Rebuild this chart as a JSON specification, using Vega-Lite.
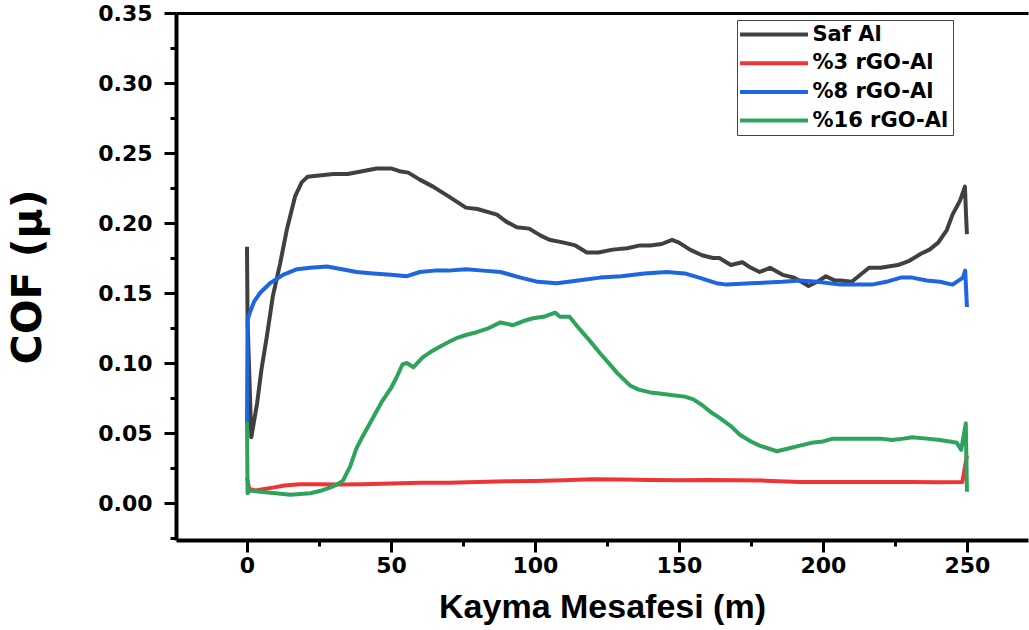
{
  "$schema": "https://vega.github.io/schema/vega-lite/v6.json",
  "width": 852,
  "height": 527,
  "autosize": {"type": "none"},
  "padding": {"left": 176, "top": 13, "right": 1, "bottom": 90},
  "background": "white",
  "config": {
    "view": {"stroke": null},
    "axis": {
      "grid": false,
      "domainColor": "black",
      "domainWidth": 4,
      "tickColor": "black",
      "tickWidth": 3,
      "tickSize": 12,
      "labelColor": "black",
      "labelFont": "DejaVu Sans",
      "labelFontWeight": "bold",
      "labelFontSize": 22,
      "labelOverlap": false,
      "labelFlush": false,
      "titleColor": "black",
      "titleFontWeight": "bold"
    },
    "legend": {
      "orient": "none",
      "legendX": 561,
      "legendY": 7,
      "padding": 4,
      "strokeColor": "#444444",
      "fillColor": "white",
      "symbolType": "M-4,0H4",
      "symbolSize": 289,
      "symbolStrokeWidth": 4,
      "symbolOffset": 22.5,
      "labelOffset": 28,
      "labelFont": "DejaVu Sans",
      "labelFontWeight": "bold",
      "labelFontSize": 21,
      "labelColor": "black",
      "labelLimit": 400,
      "rowPadding": 6.7
    }
  },
  "resolve": {"axis": {"x": "independent", "y": "independent"}},
  "layer": [
    {
      "data": {"values": [{"t": 0}]},
      "mark": {"type": "rule", "opacity": 0},
      "encoding": {
        "x": {
          "field": "t",
          "type": "quantitative",
          "scale": {"domain": [-24.65, 271.2], "nice": false, "zero": false},
          "axis": {
            "orient": "top",
            "title": null,
            "labels": false,
            "ticks": false,
            "domain": true,
            "domainWidth": 3
          }
        }
      }
    },
    {
      "data": {"values": [{"t": 0, "v": 0}]},
      "mark": {"type": "point", "opacity": 0},
      "encoding": {
        "x": {
          "field": "t",
          "type": "quantitative",
          "scale": {"domain": [-24.65, 271.2], "nice": false, "zero": false},
          "axis": {
            "orient": "bottom",
            "title": null,
            "labels": false,
            "domain": false,
            "tickSize": 6,
            "values": [25, 75, 125, 175, 225]
          }
        },
        "y": {
          "field": "v",
          "type": "quantitative",
          "scale": {"domain": [-0.0264, 0.35], "nice": false, "zero": false},
          "axis": {
            "orient": "left",
            "title": null,
            "labels": false,
            "domain": false,
            "tickSize": 6,
            "values": [-0.025, 0.025, 0.075, 0.125, 0.175, 0.225, 0.275, 0.325]
          }
        }
      }
    },
    {
      "data": {
        "values": [
          {"series": "Saf Al", "x": 0, "y": 0.183},
          {"series": "Saf Al", "x": 0.2, "y": 0.13},
          {"series": "Saf Al", "x": 1.5, "y": 0.047},
          {"series": "Saf Al", "x": 3.5, "y": 0.071},
          {"series": "Saf Al", "x": 5, "y": 0.095},
          {"series": "Saf Al", "x": 6.9, "y": 0.119},
          {"series": "Saf Al", "x": 9, "y": 0.148},
          {"series": "Saf Al", "x": 11.5, "y": 0.171},
          {"series": "Saf Al", "x": 13.8, "y": 0.195},
          {"series": "Saf Al", "x": 16.7, "y": 0.219},
          {"series": "Saf Al", "x": 19, "y": 0.229},
          {"series": "Saf Al", "x": 21, "y": 0.233},
          {"series": "Saf Al", "x": 25, "y": 0.234},
          {"series": "Saf Al", "x": 30, "y": 0.235},
          {"series": "Saf Al", "x": 35, "y": 0.235},
          {"series": "Saf Al", "x": 40, "y": 0.237},
          {"series": "Saf Al", "x": 45, "y": 0.239},
          {"series": "Saf Al", "x": 50, "y": 0.239},
          {"series": "Saf Al", "x": 53, "y": 0.237},
          {"series": "Saf Al", "x": 56, "y": 0.236},
          {"series": "Saf Al", "x": 60, "y": 0.231},
          {"series": "Saf Al", "x": 64.6, "y": 0.226},
          {"series": "Saf Al", "x": 70, "y": 0.219},
          {"series": "Saf Al", "x": 76, "y": 0.211},
          {"series": "Saf Al", "x": 80, "y": 0.21},
          {"series": "Saf Al", "x": 86.8, "y": 0.206},
          {"series": "Saf Al", "x": 90, "y": 0.201},
          {"series": "Saf Al", "x": 93.7, "y": 0.197},
          {"series": "Saf Al", "x": 98, "y": 0.196},
          {"series": "Saf Al", "x": 102, "y": 0.191},
          {"series": "Saf Al", "x": 105, "y": 0.188},
          {"series": "Saf Al", "x": 110, "y": 0.186},
          {"series": "Saf Al", "x": 114, "y": 0.184},
          {"series": "Saf Al", "x": 118, "y": 0.179},
          {"series": "Saf Al", "x": 122, "y": 0.179},
          {"series": "Saf Al", "x": 127, "y": 0.181},
          {"series": "Saf Al", "x": 132, "y": 0.182},
          {"series": "Saf Al", "x": 136.5, "y": 0.184},
          {"series": "Saf Al", "x": 140, "y": 0.184},
          {"series": "Saf Al", "x": 144, "y": 0.185},
          {"series": "Saf Al", "x": 147.6, "y": 0.188},
          {"series": "Saf Al", "x": 150, "y": 0.186},
          {"series": "Saf Al", "x": 153.8, "y": 0.181},
          {"series": "Saf Al", "x": 158, "y": 0.177},
          {"series": "Saf Al", "x": 161.8, "y": 0.175},
          {"series": "Saf Al", "x": 164, "y": 0.175},
          {"series": "Saf Al", "x": 168, "y": 0.17},
          {"series": "Saf Al", "x": 172, "y": 0.172},
          {"series": "Saf Al", "x": 175, "y": 0.168},
          {"series": "Saf Al", "x": 178, "y": 0.165},
          {"series": "Saf Al", "x": 181.6, "y": 0.168},
          {"series": "Saf Al", "x": 186, "y": 0.163},
          {"series": "Saf Al", "x": 190, "y": 0.161},
          {"series": "Saf Al", "x": 195, "y": 0.155},
          {"series": "Saf Al", "x": 198, "y": 0.158},
          {"series": "Saf Al", "x": 201, "y": 0.162},
          {"series": "Saf Al", "x": 204, "y": 0.159},
          {"series": "Saf Al", "x": 206, "y": 0.159},
          {"series": "Saf Al", "x": 210, "y": 0.158},
          {"series": "Saf Al", "x": 213, "y": 0.163},
          {"series": "Saf Al", "x": 216, "y": 0.168},
          {"series": "Saf Al", "x": 220, "y": 0.168},
          {"series": "Saf Al", "x": 226, "y": 0.17},
          {"series": "Saf Al", "x": 230, "y": 0.173},
          {"series": "Saf Al", "x": 234, "y": 0.178},
          {"series": "Saf Al", "x": 237, "y": 0.181},
          {"series": "Saf Al", "x": 240, "y": 0.186},
          {"series": "Saf Al", "x": 243, "y": 0.195},
          {"series": "Saf Al", "x": 245, "y": 0.206},
          {"series": "Saf Al", "x": 247.6, "y": 0.216},
          {"series": "Saf Al", "x": 249.3, "y": 0.226},
          {"series": "Saf Al", "x": 249.7, "y": 0.205},
          {"series": "Saf Al", "x": 250, "y": 0.192},

          {"series": "%3 rGO-Al", "x": 0, "y": 0.018},
          {"series": "%3 rGO-Al", "x": 0.8, "y": 0.01},
          {"series": "%3 rGO-Al", "x": 3, "y": 0.009},
          {"series": "%3 rGO-Al", "x": 6, "y": 0.01},
          {"series": "%3 rGO-Al", "x": 9, "y": 0.011},
          {"series": "%3 rGO-Al", "x": 13, "y": 0.0125},
          {"series": "%3 rGO-Al", "x": 18.4, "y": 0.0135},
          {"series": "%3 rGO-Al", "x": 25, "y": 0.0135},
          {"series": "%3 rGO-Al", "x": 32, "y": 0.0133},
          {"series": "%3 rGO-Al", "x": 40, "y": 0.0135},
          {"series": "%3 rGO-Al", "x": 50, "y": 0.014},
          {"series": "%3 rGO-Al", "x": 60, "y": 0.0145},
          {"series": "%3 rGO-Al", "x": 70, "y": 0.0145},
          {"series": "%3 rGO-Al", "x": 80, "y": 0.015},
          {"series": "%3 rGO-Al", "x": 90, "y": 0.0155},
          {"series": "%3 rGO-Al", "x": 100, "y": 0.0158},
          {"series": "%3 rGO-Al", "x": 110, "y": 0.0163},
          {"series": "%3 rGO-Al", "x": 120, "y": 0.017},
          {"series": "%3 rGO-Al", "x": 130, "y": 0.0168},
          {"series": "%3 rGO-Al", "x": 140, "y": 0.0165},
          {"series": "%3 rGO-Al", "x": 150, "y": 0.0162},
          {"series": "%3 rGO-Al", "x": 160, "y": 0.0165},
          {"series": "%3 rGO-Al", "x": 170, "y": 0.0163},
          {"series": "%3 rGO-Al", "x": 180, "y": 0.016},
          {"series": "%3 rGO-Al", "x": 192, "y": 0.015},
          {"series": "%3 rGO-Al", "x": 200, "y": 0.015},
          {"series": "%3 rGO-Al", "x": 210, "y": 0.015},
          {"series": "%3 rGO-Al", "x": 220, "y": 0.015},
          {"series": "%3 rGO-Al", "x": 230, "y": 0.015},
          {"series": "%3 rGO-Al", "x": 240, "y": 0.0148},
          {"series": "%3 rGO-Al", "x": 248.4, "y": 0.015},
          {"series": "%3 rGO-Al", "x": 250, "y": 0.034},

          {"series": "%8 rGO-Al", "x": 0, "y": 0.057},
          {"series": "%8 rGO-Al", "x": 0.2, "y": 0.131},
          {"series": "%8 rGO-Al", "x": 1, "y": 0.136},
          {"series": "%8 rGO-Al", "x": 2.5, "y": 0.144},
          {"series": "%8 rGO-Al", "x": 4.5, "y": 0.15},
          {"series": "%8 rGO-Al", "x": 8, "y": 0.157},
          {"series": "%8 rGO-Al", "x": 12.5, "y": 0.163},
          {"series": "%8 rGO-Al", "x": 17.4, "y": 0.167},
          {"series": "%8 rGO-Al", "x": 22, "y": 0.168},
          {"series": "%8 rGO-Al", "x": 27.8, "y": 0.169},
          {"series": "%8 rGO-Al", "x": 33, "y": 0.167},
          {"series": "%8 rGO-Al", "x": 38, "y": 0.165},
          {"series": "%8 rGO-Al", "x": 43.8, "y": 0.164},
          {"series": "%8 rGO-Al", "x": 50, "y": 0.163},
          {"series": "%8 rGO-Al", "x": 55.6, "y": 0.162},
          {"series": "%8 rGO-Al", "x": 60, "y": 0.165},
          {"series": "%8 rGO-Al", "x": 65, "y": 0.166},
          {"series": "%8 rGO-Al", "x": 70, "y": 0.166},
          {"series": "%8 rGO-Al", "x": 76, "y": 0.167},
          {"series": "%8 rGO-Al", "x": 82, "y": 0.166},
          {"series": "%8 rGO-Al", "x": 88, "y": 0.165},
          {"series": "%8 rGO-Al", "x": 95, "y": 0.161},
          {"series": "%8 rGO-Al", "x": 101, "y": 0.158},
          {"series": "%8 rGO-Al", "x": 107.6, "y": 0.157},
          {"series": "%8 rGO-Al", "x": 115, "y": 0.159},
          {"series": "%8 rGO-Al", "x": 122.6, "y": 0.161},
          {"series": "%8 rGO-Al", "x": 130, "y": 0.162},
          {"series": "%8 rGO-Al", "x": 138, "y": 0.164},
          {"series": "%8 rGO-Al", "x": 145.8, "y": 0.165},
          {"series": "%8 rGO-Al", "x": 152, "y": 0.164},
          {"series": "%8 rGO-Al", "x": 157, "y": 0.161},
          {"series": "%8 rGO-Al", "x": 163, "y": 0.157},
          {"series": "%8 rGO-Al", "x": 166.6, "y": 0.156},
          {"series": "%8 rGO-Al", "x": 175, "y": 0.157},
          {"series": "%8 rGO-Al", "x": 186, "y": 0.158},
          {"series": "%8 rGO-Al", "x": 192, "y": 0.159},
          {"series": "%8 rGO-Al", "x": 198, "y": 0.158},
          {"series": "%8 rGO-Al", "x": 206, "y": 0.156},
          {"series": "%8 rGO-Al", "x": 212, "y": 0.156},
          {"series": "%8 rGO-Al", "x": 217, "y": 0.156},
          {"series": "%8 rGO-Al", "x": 222, "y": 0.158},
          {"series": "%8 rGO-Al", "x": 227, "y": 0.161},
          {"series": "%8 rGO-Al", "x": 231, "y": 0.161},
          {"series": "%8 rGO-Al", "x": 236, "y": 0.159},
          {"series": "%8 rGO-Al", "x": 240.6, "y": 0.158},
          {"series": "%8 rGO-Al", "x": 245, "y": 0.156},
          {"series": "%8 rGO-Al", "x": 248.6, "y": 0.161},
          {"series": "%8 rGO-Al", "x": 249.4, "y": 0.166},
          {"series": "%8 rGO-Al", "x": 250, "y": 0.14},

          {"series": "%16 rGO-Al", "x": 0, "y": 0.058},
          {"series": "%16 rGO-Al", "x": 0.2, "y": 0.007},
          {"series": "%16 rGO-Al", "x": 1, "y": 0.009},
          {"series": "%16 rGO-Al", "x": 4.5, "y": 0.008},
          {"series": "%16 rGO-Al", "x": 10, "y": 0.007},
          {"series": "%16 rGO-Al", "x": 15, "y": 0.006},
          {"series": "%16 rGO-Al", "x": 22, "y": 0.007},
          {"series": "%16 rGO-Al", "x": 26, "y": 0.009},
          {"series": "%16 rGO-Al", "x": 28.8, "y": 0.011},
          {"series": "%16 rGO-Al", "x": 31, "y": 0.013},
          {"series": "%16 rGO-Al", "x": 33.3, "y": 0.016},
          {"series": "%16 rGO-Al", "x": 35.8, "y": 0.026},
          {"series": "%16 rGO-Al", "x": 38, "y": 0.039},
          {"series": "%16 rGO-Al", "x": 40, "y": 0.047},
          {"series": "%16 rGO-Al", "x": 42.7, "y": 0.057},
          {"series": "%16 rGO-Al", "x": 47, "y": 0.073},
          {"series": "%16 rGO-Al", "x": 50, "y": 0.082},
          {"series": "%16 rGO-Al", "x": 52, "y": 0.09},
          {"series": "%16 rGO-Al", "x": 54, "y": 0.099},
          {"series": "%16 rGO-Al", "x": 55.5, "y": 0.1},
          {"series": "%16 rGO-Al", "x": 57.8, "y": 0.097},
          {"series": "%16 rGO-Al", "x": 61, "y": 0.104},
          {"series": "%16 rGO-Al", "x": 64.6, "y": 0.109},
          {"series": "%16 rGO-Al", "x": 69, "y": 0.114},
          {"series": "%16 rGO-Al", "x": 73, "y": 0.118},
          {"series": "%16 rGO-Al", "x": 76, "y": 0.12},
          {"series": "%16 rGO-Al", "x": 79.8, "y": 0.122},
          {"series": "%16 rGO-Al", "x": 84, "y": 0.125},
          {"series": "%16 rGO-Al", "x": 88, "y": 0.129},
          {"series": "%16 rGO-Al", "x": 92.4, "y": 0.127},
          {"series": "%16 rGO-Al", "x": 96, "y": 0.13},
          {"series": "%16 rGO-Al", "x": 99.3, "y": 0.132},
          {"series": "%16 rGO-Al", "x": 103, "y": 0.133},
          {"series": "%16 rGO-Al", "x": 107, "y": 0.136},
          {"series": "%16 rGO-Al", "x": 108.7, "y": 0.133},
          {"series": "%16 rGO-Al", "x": 112, "y": 0.133},
          {"series": "%16 rGO-Al", "x": 115.6, "y": 0.124},
          {"series": "%16 rGO-Al", "x": 119, "y": 0.116},
          {"series": "%16 rGO-Al", "x": 122.6, "y": 0.107},
          {"series": "%16 rGO-Al", "x": 126, "y": 0.099},
          {"series": "%16 rGO-Al", "x": 128.5, "y": 0.093},
          {"series": "%16 rGO-Al", "x": 133, "y": 0.084},
          {"series": "%16 rGO-Al", "x": 136, "y": 0.081},
          {"series": "%16 rGO-Al", "x": 140, "y": 0.079},
          {"series": "%16 rGO-Al", "x": 144, "y": 0.078},
          {"series": "%16 rGO-Al", "x": 148, "y": 0.077},
          {"series": "%16 rGO-Al", "x": 152, "y": 0.076},
          {"series": "%16 rGO-Al", "x": 155, "y": 0.074},
          {"series": "%16 rGO-Al", "x": 158, "y": 0.07},
          {"series": "%16 rGO-Al", "x": 161, "y": 0.065},
          {"series": "%16 rGO-Al", "x": 164, "y": 0.061},
          {"series": "%16 rGO-Al", "x": 168, "y": 0.055},
          {"series": "%16 rGO-Al", "x": 171, "y": 0.049},
          {"series": "%16 rGO-Al", "x": 175, "y": 0.044},
          {"series": "%16 rGO-Al", "x": 178, "y": 0.041},
          {"series": "%16 rGO-Al", "x": 184, "y": 0.037},
          {"series": "%16 rGO-Al", "x": 188, "y": 0.039},
          {"series": "%16 rGO-Al", "x": 192, "y": 0.041},
          {"series": "%16 rGO-Al", "x": 196, "y": 0.043},
          {"series": "%16 rGO-Al", "x": 200, "y": 0.044},
          {"series": "%16 rGO-Al", "x": 203.5, "y": 0.046},
          {"series": "%16 rGO-Al", "x": 210, "y": 0.046},
          {"series": "%16 rGO-Al", "x": 215, "y": 0.046},
          {"series": "%16 rGO-Al", "x": 220, "y": 0.046},
          {"series": "%16 rGO-Al", "x": 224, "y": 0.045},
          {"series": "%16 rGO-Al", "x": 228, "y": 0.046},
          {"series": "%16 rGO-Al", "x": 231, "y": 0.047},
          {"series": "%16 rGO-Al", "x": 236, "y": 0.046},
          {"series": "%16 rGO-Al", "x": 240.6, "y": 0.045},
          {"series": "%16 rGO-Al", "x": 244, "y": 0.044},
          {"series": "%16 rGO-Al", "x": 246.5, "y": 0.043},
          {"series": "%16 rGO-Al", "x": 248, "y": 0.038},
          {"series": "%16 rGO-Al", "x": 249.6, "y": 0.057},
          {"series": "%16 rGO-Al", "x": 250, "y": 0.008}
        ]
      },
      "mark": {"type": "line", "strokeWidth": 4, "strokeJoin": "round"},
      "encoding": {
        "x": {
          "field": "x",
          "type": "quantitative",
          "scale": {"domain": [-24.65, 271.2], "nice": false, "zero": false},
          "axis": {
            "orient": "bottom",
            "title": "Kayma Mesafesi (m)",
            "titleFont": "Liberation Sans",
            "titleFontSize": 34,
            "titlePadding": 14,
            "labelPadding": 3,
            "values": [0, 50, 100, 150, 200, 250]
          }
        },
        "y": {
          "field": "y",
          "type": "quantitative",
          "scale": {"domain": [-0.0264, 0.35], "nice": false, "zero": false},
          "axis": {
            "orient": "left",
            "title": "COF (μ)",
            "titleFont": "DejaVu Sans",
            "titleFontSize": 41,
            "titlePadding": 48,
            "labelPadding": 12,
            "format": ".2f",
            "values": [0, 0.05, 0.1, 0.15, 0.2, 0.25, 0.3, 0.35]
          }
        },
        "color": {
          "field": "series",
          "type": "nominal",
          "sort": ["Saf Al", "%3 rGO-Al", "%8 rGO-Al", "%16 rGO-Al"],
          "scale": {
            "domain": ["Saf Al", "%3 rGO-Al", "%8 rGO-Al", "%16 rGO-Al"],
            "range": ["#404040", "#ee3535", "#1e66e0", "#2ea35c"]
          },
          "legend": {"title": null}
        }
      }
    }
  ]
}
